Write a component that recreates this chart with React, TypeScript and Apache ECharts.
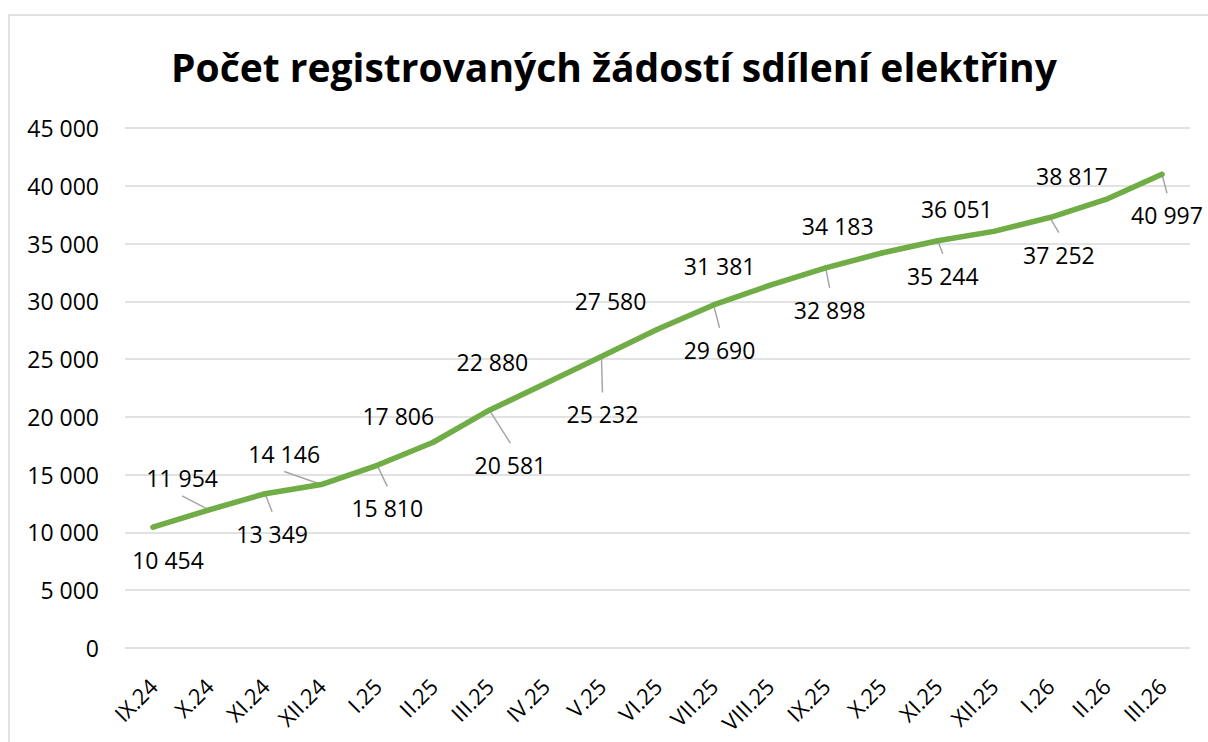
import React, { useEffect, useRef } from "react";
import * as echarts from "echarts";

const titleText = "Počet registrovaných žádostí sdílení elektřiny";
const categories = [
  "IX.24", "X.24", "XI.24", "XII.24", "I.25", "II.25", "III.25", "IV.25", "V.25",
  "VI.25", "VII.25", "VIII.25", "IX.25", "X.25", "XI.25", "XII.25", "I.26", "II.26", "III.26",
];
const values = [
  10454, 11954, 13349, 14146, 15810, 17806, 20581, 22880, 25232,
  27580, 29690, 31381, 32898, 34183, 35244, 36051, 37252, 38817, 40997,
];
// label offsets (px) from each point, as placed in the original
const labelDx = [15, -27, 7, -37, 10, -35, 21, -53, 1, -47, 6, -50, 4, -44, 5, -37, 9, -34, 5];
const labelDy = [33, -32, 40, -31, 43, -26, 55, -22, 58, -28, 45, -19, 42, -27, 35, -22, 37, -23, 41];
const showLeader = [false, true, true, true, true, false, true, false, true, false, true, false, true, false, true, false, true, false, true];

const FONT = "Open Sans";
const fmt = (n: number) => String(n).replace(/\B(?=(\d{3})+(?!\d))/g, " ");

export default function App() {
  const ref = useRef<HTMLDivElement>(null);
  useEffect(() => {
    if (!ref.current) return;
    const chart = echarts.init(ref.current, undefined, { renderer: "svg" });
    const leaderData = values
      .map((v, i) => [i, v])
      .filter((_, i) => showLeader[i]);
    chart.setOption({
      animation: false,
      backgroundColor: "#ffffff",
      textStyle: { fontFamily: FONT },
      title: {
        text: titleText,
        left: 166,
        top: 42,
        textStyle: { fontFamily: FONT, fontSize: 39, fontWeight: "bold", color: "#000000" },
      },
      graphic: [
        {
          type: "rect",
          silent: true,
          shape: { x: 9, y: 15, width: 1300, height: 800 },
          style: { fill: "none", stroke: "#d9d9d9", lineWidth: 1.5 },
        },
      ],
      grid: { left: 125, right: 18, top: 128, bottom: 94 },
      xAxis: {
        type: "category",
        data: categories,
        boundaryGap: true,
        axisLine: { show: false },
        axisTick: { show: false },
        axisLabel: { interval: 0, rotate: 45, fontSize: 22, color: "#000000", margin: 34, fontFamily: FONT },
      },
      yAxis: {
        type: "value",
        min: 0,
        max: 45000,
        interval: 5000,
        axisLine: { show: false },
        axisTick: { show: false },
        axisLabel: { fontSize: 23, color: "#000000", margin: 26, formatter: (v: number) => fmt(v), fontFamily: FONT },
        splitLine: { lineStyle: { color: "#d9d9d9", width: 1.5 } },
      },
      series: [
        {
          type: "custom",
          z: 1,
          silent: true,
          data: leaderData,
          renderItem: (params: any, api: any) => {
            const i = api.value(0);
            const v = api.value(1);
            const p = api.coord([i, v]);
            const dy = labelDy[i];
            const ex = p[0] + labelDx[i];
            const ey = dy < 0 ? p[1] + dy + 18 : p[1] + dy - 22;
            return {
              type: "line",
              shape: { x1: p[0], y1: p[1], x2: ex, y2: ey },
              style: { stroke: "#a6a6a6", lineWidth: 1.5 },
            };
          },
        },
        {
          type: "line",
          z: 2,
          data: values,
          symbol: "circle",
          symbolSize: 5,
          showSymbol: true,
          itemStyle: { color: "#70ad47" },
          lineStyle: { color: "#70ad47", width: 5.5, cap: "round", join: "round" },
          label: {
            show: true,
            position: "inside",
            fontSize: 23,
            color: "#000000",
            fontFamily: FONT,
            formatter: (p: any) => fmt(p.value),
          },
          labelLayout: (params: any) => {
            const i = params.dataIndex;
            const r = params.rect;
            return {
              x: r.x + r.width / 2 + labelDx[i],
              y: r.y + r.height / 2 + labelDy[i],
              align: "center",
              verticalAlign: "middle",
            };
          },
        },
      ],
    });
    return () => chart.dispose();
  }, []);
  return (
    <div
      ref={ref}
      style={{ position: "absolute", left: 0, top: 0, width: 1208, height: 742 }}
    />
  );
}
